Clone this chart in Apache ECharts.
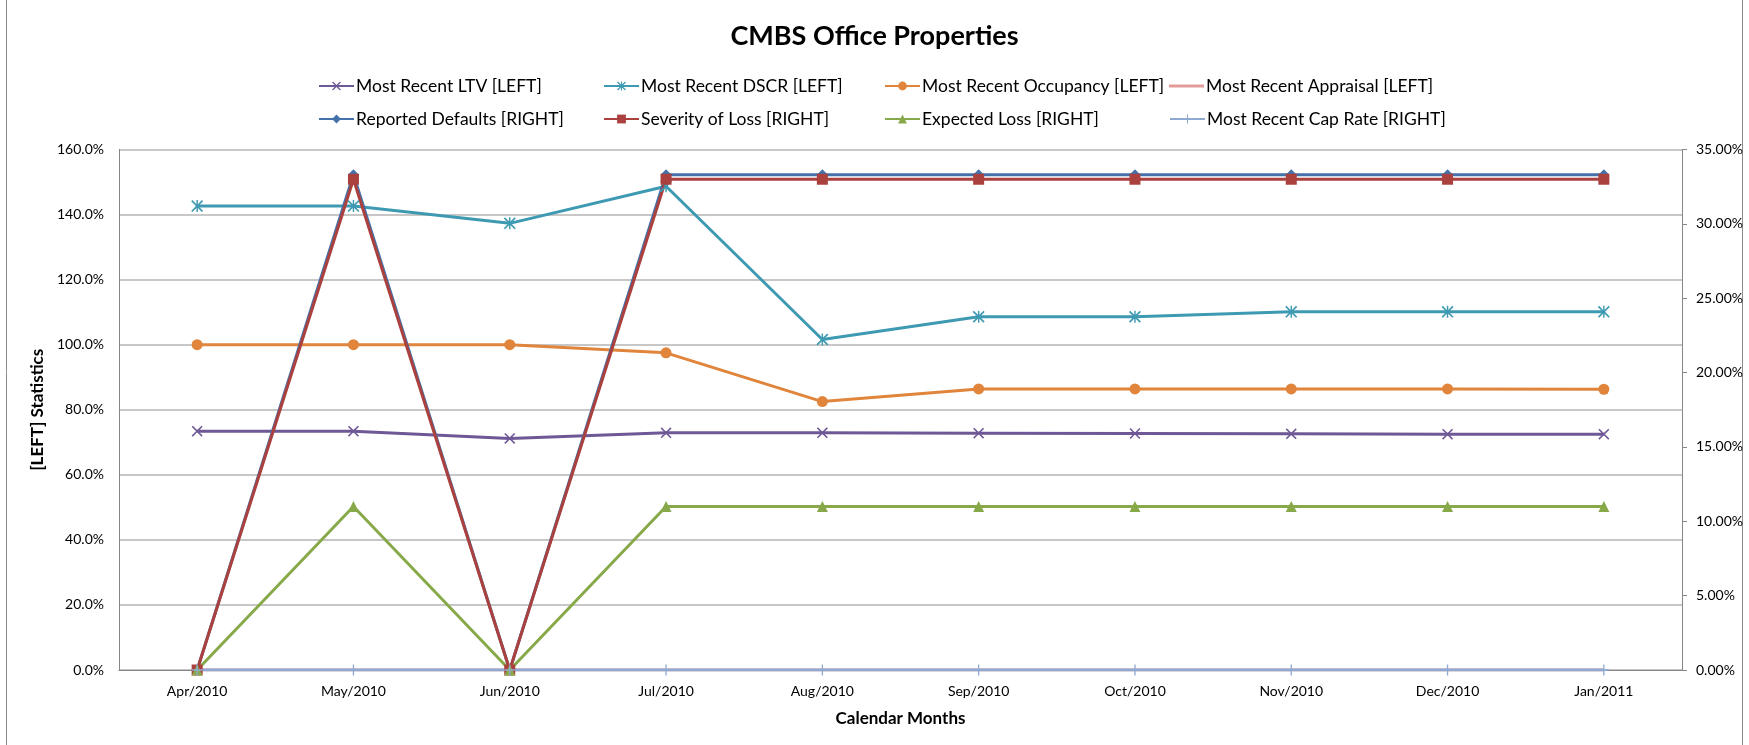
<!DOCTYPE html>
<html>
<head>
<meta charset="utf-8">
<script src="https://cdn.jsdelivr.net/npm/echarts@6/dist/echarts.min.js"></script>
<style>
  html, body { margin: 0; padding: 0; background: #fff; }
  #chart { width: 1749px; height: 745px; }
</style>
</head>
<body>
<div id="chart"></div>
<script>
// datos del gráfico (en %)
const months = ['Apr/2010', 'May/2010', 'Jun/2010', 'Jul/2010', 'Aug/2010', 'Sep/2010', 'Oct/2010', 'Nov/2010', 'Dec/2010', 'Jan/2011'];
const ltv = [73.4, 73.4, 71.2, 72.9, 72.9, 72.8, 72.7, 72.6, 72.5, 72.5];
const dscr = [142.6, 142.6, 137.3, 148.7, 101.6, 108.6, 108.6, 110.1, 110.1, 110.1];
const occupancy = [100, 100, 100, 97.5, 82.5, 86.4, 86.4, 86.4, 86.4, 86.3];
const appraisal = [0, 0, 0, 0, 0, 0, 0, 0, 0, 0];
const defaults = [0, 33.3, 0, 33.3, 33.3, 33.3, 33.3, 33.3, 33.3, 33.3];
const severity = [0, 33.0, 0, 33.0, 33.0, 33.0, 33.0, 33.0, 33.0, 33.0];
const expectedLoss = [0, 11.0, 0, 11.0, 11.0, 11.0, 11.0, 11.0, 11.0, 11.0];
const capRate = [0, 0, 0, 0, 0, 0, 0, 0, 0, 0];
const leftTicks = [0, 160, 20];
const rightTicks = [0, 35, 5];

const FONT = 'Lato';

// símbolos tipo Excel
const crossPath = 'path://M0,1L1,0L5,4L9,0L10,1L6,5L10,9L9,10L5,6L1,10L0,9L4,5Z';
const starPath = 'path://M0,1L1,0L5,4L9,0L10,1L6,5L10,9L9,10L5,6L1,10L0,9L4,5Z M4.4,0L5.6,0L5.6,10L4.4,10Z';
const plusPath = 'path://M4.4,0L5.6,0L5.6,10L4.4,10Z M0,4.4L10,4.4L10,5.6L0,5.6Z';

function lineSeries(name, data, color, symbol, size, axis) {
  return {
    name: name,
    type: 'line',
    yAxisIndex: axis,
    data: data,
    symbol: symbol,
    symbolSize: size,
    showAllSymbol: true,
    lineStyle: { width: 3, color: color },
    itemStyle: { color: color },
    emphasis: { disabled: true }
  };
}

const series = [
  lineSeries('Most Recent LTV [LEFT]', ltv, '#6E5896', crossPath, 11, 0),
  lineSeries('Most Recent DSCR [LEFT]', dscr, '#3E9AB2', starPath, 12, 0),
  lineSeries('Most Recent Occupancy [LEFT]', occupancy, '#E0853B', 'circle', 11, 0),
  lineSeries('Most Recent Appraisal [LEFT]', appraisal, '#E39B99', 'none', 0, 0),
  lineSeries('Reported Defaults [RIGHT]', defaults, '#4471A9', 'diamond', 11, 1),
  lineSeries('Severity of Loss [RIGHT]', severity, '#AA413E', 'rect', 11, 1),
  lineSeries('Expected Loss [RIGHT]', expectedLoss, '#88A94A', 'triangle', 11, 1),
  lineSeries('Most Recent Cap Rate [RIGHT]', capRate, '#90A9D3', plusPath, 11, 1)
];

// leyenda en 4 columnas x 2 filas
const legendCols = [313, 598, 879, 1164];
const legendRows = [72, 105];
const legends = series.map(function (s, i) {
  const noMarker = s.symbol === 'none';
  return {
    data: [noMarker ? { name: s.name, icon: 'rect' } : s.name],
    left: legendCols[i % 4],
    top: legendRows[Math.floor(i / 4)],
    itemWidth: 35,
    itemHeight: noMarker ? 3 : 11,
    itemGap: 0,
    selectedMode: false,
    textStyle: { fontFamily: FONT, fontSize: 17.5, color: '#000', padding: [0, 0, 0, -3] }
  };
});

const chart = echarts.init(document.getElementById('chart'));
chart.setOption({
  animation: false,
  title: {
    text: 'CMBS Office Properties',
    left: 'center',
    top: 18,
    textStyle: { fontFamily: FONT, fontSize: 27, fontWeight: 'bold', color: '#000' }
  },
  legend: legends,
  grid: { left: 119, right: 67, top: 149.5, bottom: 75 },
  xAxis: {
    type: 'category',
    data: months,
    boundaryGap: true,
    name: 'Calendar Months',
    nameLocation: 'middle',
    nameGap: 40,
    nameTextStyle: { fontFamily: FONT, fontSize: 17, fontWeight: 'bold', color: '#000' },
    axisLine: { lineStyle: { color: '#868686', width: 1 } },
    axisTick: { show: false },
    axisLabel: { fontFamily: FONT, fontSize: 14, color: '#000', margin: 14 }
  },
  yAxis: [
    {
      type: 'value',
      min: leftTicks[0],
      max: leftTicks[1],
      interval: leftTicks[2],
      name: '[LEFT] Statistics',
      nameLocation: 'middle',
      nameGap: 72,
      nameTextStyle: { fontFamily: FONT, fontSize: 17, fontWeight: 'bold', color: '#000' },
      axisLine: { show: true, lineStyle: { color: '#868686', width: 1 } },
      axisTick: { show: false },
      axisLabel: {
        fontFamily: FONT, fontSize: 14, color: '#000', margin: 15,
        formatter: function (v) { return v.toFixed(1) + '%'; }
      },
      splitLine: { lineStyle: { color: '#B4B4B4', width: 1.5 } }
    },
    {
      type: 'value',
      min: rightTicks[0],
      max: rightTicks[1],
      interval: rightTicks[2],
      position: 'right',
      axisLine: { show: true, lineStyle: { color: '#868686', width: 1 } },
      axisTick: { show: true, length: 5, lineStyle: { color: '#868686' } },
      axisLabel: {
        fontFamily: FONT, fontSize: 14, color: '#000', margin: 14,
        formatter: function (v) { return v.toFixed(2) + '%'; }
      },
      splitLine: { show: false }
    }
  ],
  graphic: [
    { type: 'rect', silent: true, shape: { x: 6.5, y: -2, width: 1736, height: 750 },
      style: { fill: 'none', stroke: '#8C8C8C', lineWidth: 1 } }
  ],
  series: series
});
</script>
</body>
</html>
